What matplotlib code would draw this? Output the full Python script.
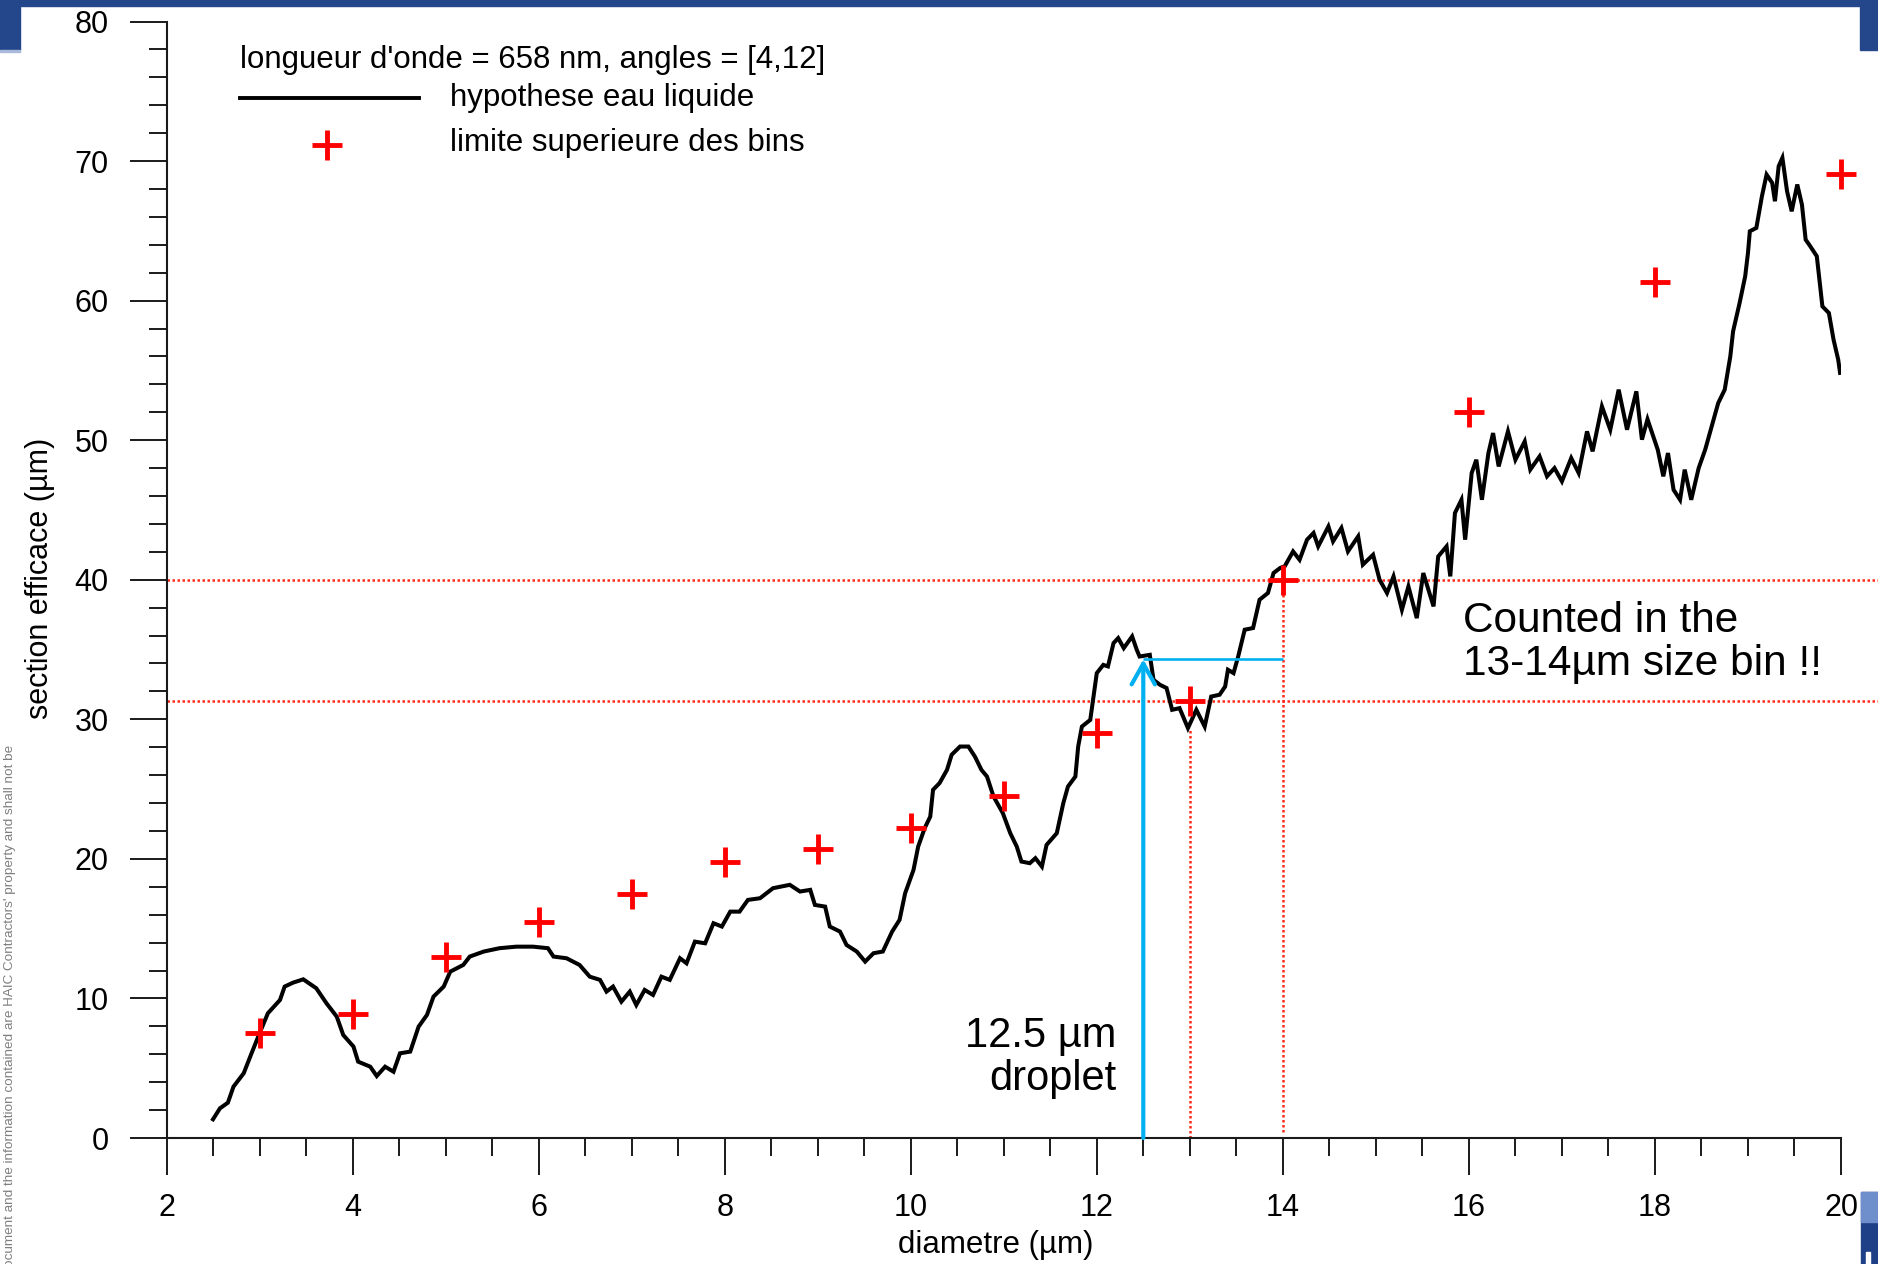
import matplotlib
matplotlib.use("Agg")
import matplotlib.pyplot as plt
from matplotlib.patches import Rectangle
from matplotlib.ticker import MultipleLocator

plt.rcParams['font.family'] = ['Liberation Sans', 'DejaVu Sans']

# Effective cross-section (liquid water hypothesis) vs droplet diameter
diametre = [
    2.50, 2.575, 2.66, 2.72, 2.83, 2.90, 3.00, 3.09, 3.22, 3.27, 3.36, 3.47,
    3.61, 3.72, 3.83, 3.90, 4.01, 4.06, 4.19, 4.26, 4.35, 4.44, 4.51, 4.62,
    4.71, 4.80, 4.87, 4.98, 5.05, 5.19, 5.26, 5.41, 5.58, 5.76, 5.94, 6.10,
    6.16, 6.30, 6.44, 6.55, 6.66, 6.73, 6.80, 6.89, 6.98, 7.05, 7.14, 7.23,
    7.32, 7.41, 7.52, 7.59, 7.68, 7.79, 7.88, 7.97, 8.06, 8.16, 8.25, 8.38,
    8.52, 8.70, 8.81, 8.92, 8.97, 9.08, 9.13, 9.24, 9.31, 9.42, 9.51, 9.60,
    9.70, 9.80, 9.88, 9.94, 10.03, 10.08, 10.15, 10.21, 10.24, 10.31, 10.39,
    10.44, 10.53, 10.62, 10.69, 10.76, 10.82, 10.89, 10.99, 11.07, 11.14,
    11.19, 11.28, 11.34, 11.41, 11.46, 11.57, 11.64, 11.69, 11.77, 11.80,
    11.84, 11.93, 11.96, 12.00, 12.07, 12.12, 12.18, 12.23, 12.29, 12.38,
    12.43, 12.46, 12.57, 12.61, 12.68, 12.75, 12.81, 12.89, 12.98, 13.07,
    13.16, 13.23, 13.32, 13.38, 13.41, 13.47, 13.52, 13.59, 13.68, 13.75,
    13.84, 13.90, 13.97, 14.02, 14.11, 14.18, 14.26, 14.33, 14.38, 14.49,
    14.54, 14.63, 14.70, 14.81, 14.86, 14.97, 15.04, 15.12, 15.19, 15.28,
    15.35, 15.44, 15.51, 15.62, 15.67, 15.76, 15.80, 15.85, 15.92, 15.96,
    16.03, 16.08, 16.14, 16.21, 16.26, 16.32, 16.42, 16.50, 16.60, 16.66,
    16.76, 16.84, 16.92, 17.00, 17.10, 17.18, 17.27, 17.33, 17.43, 17.52,
    17.61, 17.70, 17.80, 17.86, 17.92, 18.03, 18.09, 18.14, 18.20, 18.27,
    18.32, 18.39, 18.47, 18.54, 18.61, 18.68, 18.75, 18.81, 18.84, 18.91,
    18.97, 19.00, 19.02, 19.09, 19.15, 19.20, 19.26, 19.29, 19.33, 19.37,
    19.42, 19.47, 19.53, 19.58, 19.62, 19.67, 19.74, 19.80, 19.87, 19.92,
    19.97, 19.99,
]
section = [
    1.34, 2.13, 2.53, 3.68, 4.64, 5.83, 7.50, 8.94, 9.89, 10.85, 11.13, 11.37,
    10.73, 9.65, 8.70, 7.38, 6.55, 5.47, 5.11, 4.44, 5.11, 4.75, 6.07, 6.19,
    7.98, 8.82, 10.13, 10.85, 11.92, 12.40, 13.00, 13.36, 13.60, 13.71, 13.71, 13.60,
    13.00, 12.88, 12.40, 11.56, 11.33, 10.49, 10.85, 9.77, 10.49, 9.53, 10.61, 10.25,
    11.56, 11.33, 12.88, 12.52, 14.07, 13.95, 15.39, 15.15, 16.22, 16.22, 17.06, 17.18,
    17.90, 18.14, 17.66, 17.78, 16.70, 16.58, 15.15, 14.79, 13.83, 13.36, 12.64, 13.24,
    13.36, 14.79, 15.63, 17.54, 19.21, 20.88, 22.20, 23.03, 24.95, 25.43, 26.38,
    27.46, 28.05, 28.05, 27.33, 26.38, 25.90, 24.47, 23.28, 21.84, 20.88,
    19.81, 19.69, 20.05, 19.45, 21.00, 21.84, 23.99, 25.18, 25.90, 28.05,
    29.48, 29.96, 31.40, 33.31, 33.90, 33.79, 35.46, 35.82, 35.10, 35.94,
    34.98, 34.50, 34.62, 32.83, 32.47, 32.24, 30.68, 30.80, 29.37, 30.68,
    29.48, 31.63, 31.76, 32.35, 33.55, 33.31, 34.50, 36.42, 36.54, 38.57,
    39.05, 40.48, 40.84, 40.96, 42.03, 41.43, 42.87, 43.35, 42.39, 43.82,
    42.75, 43.71, 42.03, 43.11, 41.08, 41.79, 40.00, 39.05, 40.24, 37.85,
    39.52, 37.25, 40.48, 38.09, 41.67, 42.39, 40.24, 44.78, 45.73, 42.87,
    47.65, 48.60, 45.73, 49.08, 50.51, 48.12, 50.63, 48.60, 49.91, 47.89,
    48.84, 47.41, 48.00, 47.05, 48.72, 47.65, 50.63, 49.20, 52.42, 50.75,
    53.62, 50.75, 53.50, 50.04, 51.50, 49.32, 47.41, 49.08, 46.45, 45.73,
    47.89, 45.73, 48.00, 49.32, 50.99, 52.66, 53.62, 56.00, 57.80, 59.83,
    61.74, 63.42, 64.97, 65.21, 67.48, 69.03, 68.44, 67.12, 69.63, 70.23,
    67.84, 66.40, 68.32, 66.88, 64.37, 63.89, 63.18, 59.59, 59.11, 57.20,
    55.77, 54.82,
]

# Upper limits of the size bins
bin_diam = [3, 4, 5, 6, 7, 8, 9, 10, 11, 12, 13, 14, 16, 18, 20]
bin_sigma = [7.55, 8.9, 13.0, 15.5, 17.5, 19.8, 20.7, 22.2, 24.5, 29.0,
             31.3, 40.0, 52.0, 61.3, 69.1]

# Example droplet and the bin it falls into
droplet_d = 12.5
droplet_sigma = 34.3
bin_low, bin_high = 13, 14
bin_low_sigma, bin_high_sigma = 31.3, 40.0
bin_low_curve = 29.4

legend_title = "longueur d'onde = 658 nm, angles = [4,12]"
label_curve = "hypothese eau liquide"
label_bins = "limite superieure des bins"
xlabel = "diametre (µm)"
ylabel = "section efficace (µm)"
note_droplet = "12.5 µm\ndroplet"
note_bin = "Counted in the\n13-14µm size bin !!"
side_note = ("ocument and the information contained are HAIC Contractors' "
             "property and shall not be")

W, H = 1878, 1264
fig = plt.figure(figsize=(W / 100, H / 100), dpi=100)
fig.patch.set_facecolor("white")
ax = fig.add_axes([166.5 / W, (H - 1138) / H, (1841 - 166.5) / W, 1116.5 / H])

ax.set_xlim(2, 20)
ax.set_ylim(0, 80)
for s in ("top", "right"):
    ax.spines[s].set_visible(False)
for s in ("left", "bottom"):
    ax.spines[s].set_linewidth(1.5)
    ax.spines[s].set_color("#1a1a1a")

ax.xaxis.set_major_locator(MultipleLocator(2))
ax.xaxis.set_minor_locator(MultipleLocator(0.5))
ax.yaxis.set_major_locator(MultipleLocator(10))
ax.yaxis.set_minor_locator(MultipleLocator(2))
ax.tick_params(which="major", direction="out", length=26.5, width=1.4,
               color="#1a1a1a", labelsize=22)
ax.tick_params(which="minor", direction="out", length=13, width=1.4,
               color="#1a1a1a")
ax.tick_params(axis="y", which="major", pad=15)
ax.tick_params(axis="x", which="major", pad=13)

ax.set_xlabel(xlabel, fontsize=22.5)
ax.xaxis.set_label_coords(0.495, -0.0958)
ax.xaxis.label.set_va("center")
ax.set_ylabel(ylabel, fontsize=22)
ax.yaxis.set_label_coords(-0.0758, 0.501)
ax.yaxis.label.set_va("center")

red = "#ff2a1a"
dot = (0, (1, 1))
# bin boundaries
ax.plot([2, 20.45], [bin_high_sigma, bin_high_sigma], color=red, lw=1.8,
        ls=dot, clip_on=False, zorder=2)
ax.plot([2, 20.45], [bin_low_sigma, bin_low_sigma], color=red, lw=1.8,
        ls=dot, clip_on=False, zorder=2)
ax.plot([bin_low, bin_low], [0, bin_low_curve], color=red, lw=1.8, ls=dot, zorder=2)
ax.plot([bin_high, bin_high], [0.4, bin_high_sigma], color=red, lw=1.8, ls=dot, zorder=2)

# curve and bin limits
ax.plot(diametre, section, color="black", lw=2.9, zorder=3,
        solid_joinstyle="miter")
ax.plot(bin_diam, bin_sigma, ls="none", marker="+", ms=21, mew=3.5,
        color="#ff0000", zorder=4, clip_on=False)

# droplet arrow
cyan = "#00b0f0"
ax.plot([droplet_d, bin_high], [droplet_sigma, droplet_sigma], color=cyan,
        lw=1.9, zorder=5, solid_capstyle="butt")
ax.annotate("", xy=(droplet_d, droplet_sigma), xytext=(droplet_d, 0),
            arrowprops=dict(arrowstyle="->,head_length=0.75,head_width=0.42",
                            lw=3.0, color=cyan, shrinkA=0, shrinkB=0,
                            mutation_scale=20),
            zorder=5)

ax.text(12.21, 5.75, note_droplet, ha="right", va="center", fontsize=30,
        multialignment="right", linespacing=1.1)
ax.text(15.94, 35.5, note_bin, ha="left", va="center", fontsize=30.5,
        linespacing=1.1)

# legend block
ax.text(2.785, 77.25, legend_title, ha="left", va="center", fontsize=22.5)
ax.plot([2.785, 4.717], [74.5, 74.5], color="black", lw=2.8, clip_on=False)
ax.text(5.05, 74.5, label_curve, ha="left", va="center", fontsize=22.5)
ax.plot([3.725], [71.16], ls="none", marker="+", ms=21, mew=3.5, color="#ff0000")
ax.text(5.05, 71.3, label_bins, ha="left", va="center", fontsize=22.5)

# slide frame
navy = "#24468a"
fig.patches.append(Rectangle((0, 1 - 6 / H), 1, 6 / H, transform=fig.transFigure,
                             color=navy, zorder=10))
fig.patches.append(Rectangle((0, 1 - 50 / H), 20 / W, 50 / H,
                             transform=fig.transFigure, color=navy, zorder=10))
fig.patches.append(Rectangle((0, 1 - 52 / H), 20 / W, 2 / H,
                             transform=fig.transFigure, color="#a9b9da", zorder=10))
fig.patches.append(Rectangle((1860 / W, 1 - 50 / H), 18 / W, 50 / H,
                             transform=fig.transFigure, color=navy, zorder=10))
fig.patches.append(Rectangle((1861 / W, 0), 17 / W, 72 / H,
                             transform=fig.transFigure, color="#1f3f86", zorder=10))
fig.patches.append(Rectangle((1861 / W, 42 / H), 17 / W, 30 / H,
                             transform=fig.transFigure, color="#6f8fcc", zorder=10))
fig.patches.append(Rectangle((1866 / W, 0), 4 / W, 12 / H,
                             transform=fig.transFigure, color="white", zorder=11))

fig.text(4 / W, 1 - 745 / H, side_note, rotation=90, rotation_mode="anchor",
         ha="right", va="top", fontsize=9.7, color="#7f7f7f")

fig.savefig("out.png", dpi=100, facecolor="white")
